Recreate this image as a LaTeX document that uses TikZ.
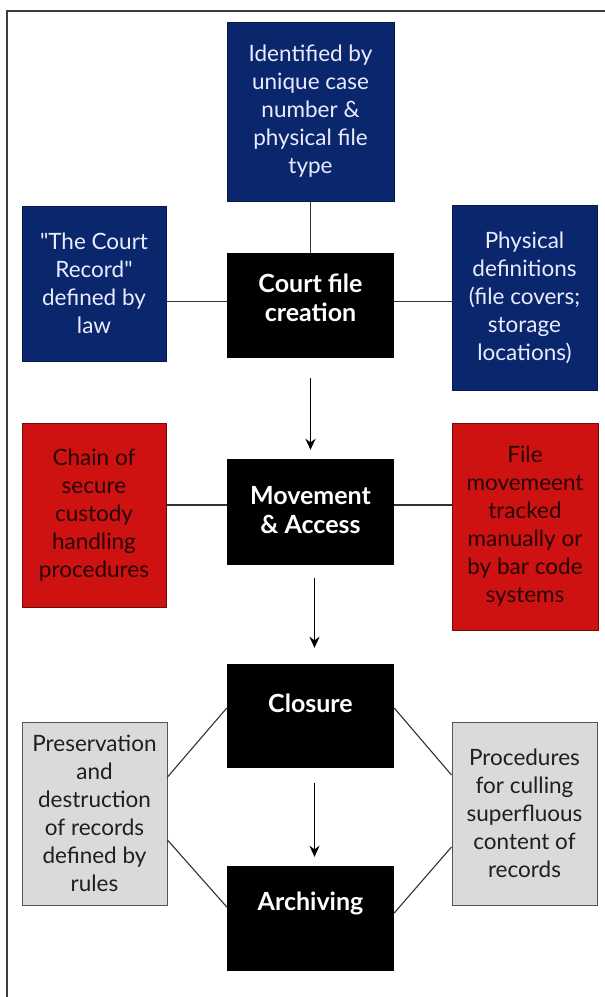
\documentclass[tikz,border=0pt]{standalone}
\usepackage{fontspec}
\setmainfont{Lato}
\usetikzlibrary{arrows.meta}

\definecolor{navy}{RGB}{10,38,108}
\definecolor{navyedge}{RGB}{8,26,70}
\definecolor{redfill}{RGB}{206,18,18}
\definecolor{rededge}{RGB}{120,10,10}
\definecolor{redtext}{RGB}{40,4,4}
\definecolor{greyfill}{RGB}{218,218,218}
\definecolor{greyedge}{RGB}{85,85,85}
\definecolor{wire}{RGB}{50,50,50}
\definecolor{framegrey}{RGB}{60,60,60}

\tikzset{
  box/.style={rectangle, inner sep=1pt, align=center, line width=1pt,
    font=\fontsize{22.5}{28}\selectfont},
  bluebox/.style={box, fill=navy, draw=navyedge, text=white!92!blue},
  redbox/.style={box, fill=redfill, draw=rededge, text=redtext},
  greybox/.style={box, fill=greyfill, draw=greyedge, text=black!88},
  stagebox/.style={rectangle, fill=black, minimum width=167pt},
  stagetext/.style={text=white, align=center,
    font=\bfseries\fontsize{25}{29}\selectfont},
  link/.style={draw=wire, line width=1.1pt},
  flow/.style={draw=black, line width=1.8pt,
    -{Stealth[length=11pt,width=10pt]}},
}

\begin{document}
\begin{tikzpicture}[x=1pt,y=-1pt]
\useasboundingbox (0,0) rectangle (605,997);
\fill[white] (0,0) rectangle (605,997);

% outer frame (left and top edges)
\draw[framegrey, line width=1.6pt] (7,997) -- (7,11) -- (605,11);

% central stages
\node[stagebox, minimum height=105pt] (court)   at (310.5,305.5) {};
\node[stagebox, minimum height=106pt] (move)    at (310.5,512)   {};
\node[stagebox, minimum height=104pt] (closure) at (310.5,716)   {};
\node[stagebox, minimum height=105pt] (archive) at (310.5,918.5) {};

\node[stagetext] (court-t)   at ([yshift=8pt]court.center)    {Court file\\creation};
\node[stagetext] (move-t)    at ([yshift=2pt]move.center)     {Movement\\\& Access};
\node[stagetext] (closure-t) at ([yshift=13pt]closure.center) {Closure};
\node[stagetext] (archive-t) at ([yshift=15pt]archive.center) {Archiving};

% creation attributes
\node[bluebox, minimum width=167pt, minimum height=179pt] (ident) at (310.5,111.5)
  {Identified by\\unique case\\number \&\\physical file\\type};
\node[bluebox, minimum width=144pt, minimum height=155pt] (law) at (94,283.5)
  {\textquotedbl The Court\\Record\textquotedbl\\defined by\\law};
\node[bluebox, minimum width=145pt, minimum height=185pt] (phys) at (524.5,297.5)
  {Physical\\definitions\\(file covers;\\storage\\locations)};

% movement attributes
\node[redbox, minimum width=144pt, minimum height=184pt] (chain) at (94,515)
  {Chain of\\secure\\custody\\handling\\procedures};
\node[redbox, minimum width=146pt, minimum height=207pt] (track) at (525,526.5)
  {File\\movemeent\\tracked\\manually or\\by bar code\\systems};

% closure / archiving attributes
\node[greybox, minimum width=145pt, minimum height=183pt] (preserve) at (94.5,813.5)
  {Preservation\\and\\destruction\\of records\\defined by\\rules};
\node[greybox, minimum width=145pt, minimum height=183pt] (cull) at (524.5,813.5)
  {Procedures\\for culling\\superfluous\\content of\\records};

% plain links
\path[link] (ident.south) -- (court.north);
\path[link] ([yshift=4pt]court.west) -- ([yshift=4pt]court.west -| law.east);
\path[link] ([yshift=4pt]court.east) -- ([yshift=4pt]court.east -| phys.west);
\path[link] ([yshift=7pt]move.west) -- ([yshift=7pt]move.west -| chain.east);
\path[link] ([yshift=7pt]move.east) -- ([yshift=7pt]move.east -| track.west);

\path[link] ([yshift=8pt]closure.west) -- ([yshift=36.5pt]preserve.east);
\path[link] ([yshift=-26.5pt]preserve.east) -- ([yshift=11.5pt]archive.west);
\path[link] ([yshift=8pt]closure.east) -- ([yshift=38.5pt]cull.west);
\path[link] ([yshift=-33.5pt]cull.west) -- ([yshift=5.5pt]archive.east);

% stage flow
\path[flow, shorten <=20pt, shorten >=9pt] (court.south) -- (move.north);
\path[flow, shorten <=13pt, shorten >=16pt] ([xshift=4pt]move.south) -- ([xshift=4pt]closure.north);
\path[flow, shorten <=15pt, shorten >=9pt] ([xshift=4pt]closure.south) -- ([xshift=4pt]archive.north);
\end{tikzpicture}
\end{document}
